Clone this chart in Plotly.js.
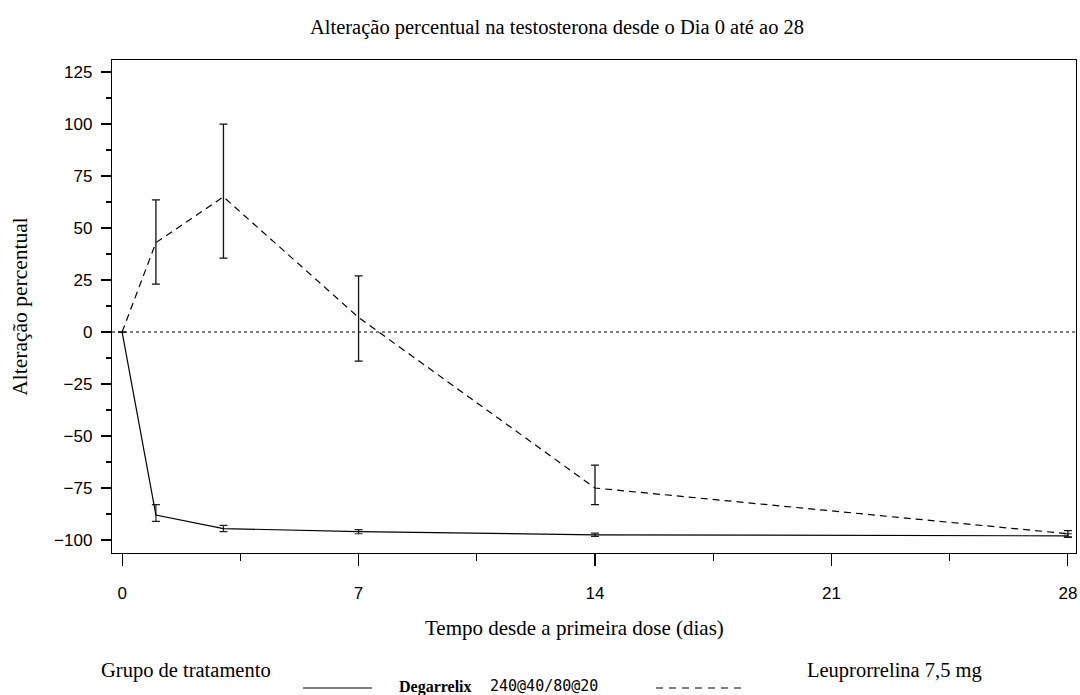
<!DOCTYPE html>
<html><head><meta charset="utf-8">
<script src="https://cdn.plot.ly/plotly-3.0.1.min.js"></script>
<style>html,body{margin:0;padding:0;background:#fff}#c{width:1080px;height:695px}</style>
</head><body><div id="c"></div>
<script>
const days = [0, 1, 3, 7, 14, 28];
const degarelixMean = [0, -88, -94.5, -96, -97.5, -98];
const degarelixUpper = [0, -83, -93, -95, -96.7, -97];
const degarelixLower = [0, -91, -96, -97, -98.3, -98.8];
const leuprorelinMean = [0, 43, 65, 7, -75, -97];
const leuprorelinUpper = [0, 63.5, 100, 27, -64, -95.5];
const leuprorelinLower = [0, 23, 35.5, -14, -83, -98.5];
const xTicks = [0, 7, 14, 21, 28];
const yTicks = [-100, -75, -50, -25, 0, 25, 50, 75, 100, 125];
const yTickText = yTicks.map(v => v < 0 ? '\u2212' + Math.abs(v) : String(v));

function errs(mean, up, lo) {
  return {
    plus: up.map((u, i) => u - mean[i]),
    minus: mean.map((m, i) => m - lo[i])
  };
}
const eD = errs(degarelixMean, degarelixUpper, degarelixLower);
const eL = errs(leuprorelinMean, leuprorelinUpper, leuprorelinLower);

const traces = [
  {
    x: [-0.3, 28.24], y: [0, 0], mode: 'lines', showlegend: false, hoverinfo: 'skip',
    line: {color: '#000', width: 1, dash: '3px,3px'}
  },
  {
    x: days, y: degarelixMean, mode: 'lines', name: 'Degarrelix 240@40/80@20',
    line: {color: '#000', width: 1.2},
    error_y: {type: 'data', symmetric: false, array: eD.plus, arrayminus: eD.minus,
      color: '#222', thickness: 1.2, width: 4}
  },
  {
    x: days, y: leuprorelinMean, mode: 'lines', name: 'Leuprorrelina 7,5 mg',
    line: {color: '#000', width: 1.2, dash: '7px,5px'},
    error_y: {type: 'data', symmetric: false, array: eL.plus, arrayminus: eL.minus,
      color: '#111', thickness: 1.3, width: 4}
  }
];

const serif = 'Liberation Serif, Times New Roman, serif';
const sans = 'Liberation Sans, Arial, sans-serif';
const W = 964, H = 493, L = 112, B = 553;
const px = v => (v - L) / W;
const py = v => (B - v) / H;

const layout = {
  width: 1080, height: 695,
  margin: {l: 112, r: 4, t: 60, b: 142},
  paper_bgcolor: '#fff', plot_bgcolor: '#fff',
  showlegend: false,
  title: {text: 'Alteração percentual na testosterona desde o Dia 0 até ao 28',
    font: {family: serif, size: 20.5, color: '#000'}, x: 557 / 1080, xanchor: 'center', y: 1 - 27 / 695, yanchor: 'middle'},
  xaxis: {
    range: [-0.3, 28.24], tickvals: xTicks, ticktext: xTicks.map(String),
    ticks: 'outside', ticklen: 12, tickwidth: 1.2, tickcolor: '#000',
    ticklabelstandoff: 12,
    minor: {dtick: 3.5, tick0: 0, ticks: 'outside', ticklen: 7, tickcolor: '#000', showgrid: false},
    showline: true, linecolor: '#000', linewidth: 1.2, mirror: true,
    showgrid: false, zeroline: false,
    tickfont: {family: sans, size: 17, color: '#000'}
  },
  yaxis: {
    range: [-106.25, 130.8], tickvals: yTicks, ticktext: yTickText,
    ticks: 'outside', ticklen: 10, tickwidth: 1.2, tickcolor: '#000',
    ticklabelstandoff: 5,
    minor: {dtick: 12.5, tick0: 0, ticks: 'outside', ticklen: 5, tickcolor: '#000', showgrid: false},
    showline: true, linecolor: '#000', linewidth: 1.2, mirror: true,
    showgrid: false, zeroline: false,
    tickfont: {family: sans, size: 17, color: '#000'},
    title: {text: 'Alteração percentual', font: {family: serif, size: 21.5, color: '#000'}, standoff: 20}
  },
  shapes: [
    {type: 'line', xref: 'paper', yref: 'paper', x0: px(303), x1: px(372),
      y0: py(688), y1: py(688), line: {color: '#000', width: 1.2}},
    {type: 'line', xref: 'paper', yref: 'paper', x0: px(656), x1: px(745),
      y0: py(688), y1: py(688), line: {color: '#000', width: 1, dash: '7px,6px'}}
  ],
  annotations: [
    {text: 'Tempo desde a primeira dose (dias)', xref: 'paper', yref: 'paper', x: px(574), y: py(628),
      xanchor: 'center', yanchor: 'middle', showarrow: false, font: {family: serif, size: 21, color: '#000'}},
    {text: 'Grupo de tratamento', xref: 'paper', yref: 'paper', x: px(99), y: py(670),
      xanchor: 'left', yanchor: 'middle', showarrow: false, font: {family: serif, size: 20.5, color: '#000'}},
    {text: '<b>Degarrelix</b>', xref: 'paper', yref: 'paper', x: px(397), y: py(687),
      xanchor: 'left', yanchor: 'middle', showarrow: false, font: {family: serif, size: 16, color: '#000'}},
    {text: '240@40/80@20', xref: 'paper', yref: 'paper', x: px(488), y: py(686),
      xanchor: 'left', yanchor: 'middle', showarrow: false, font: {family: 'DejaVu Sans Mono, monospace', size: 15, color: '#000'}},
    {text: 'Leuprorrelina 7,5 mg', xref: 'paper', yref: 'paper', x: px(805), y: py(670),
      xanchor: 'left', yanchor: 'middle', showarrow: false, font: {family: serif, size: 20.5, color: '#000'}}
  ]
};

Plotly.newPlot('c', traces, layout, {displayModeBar: false, staticPlot: true});
</script></body></html>
